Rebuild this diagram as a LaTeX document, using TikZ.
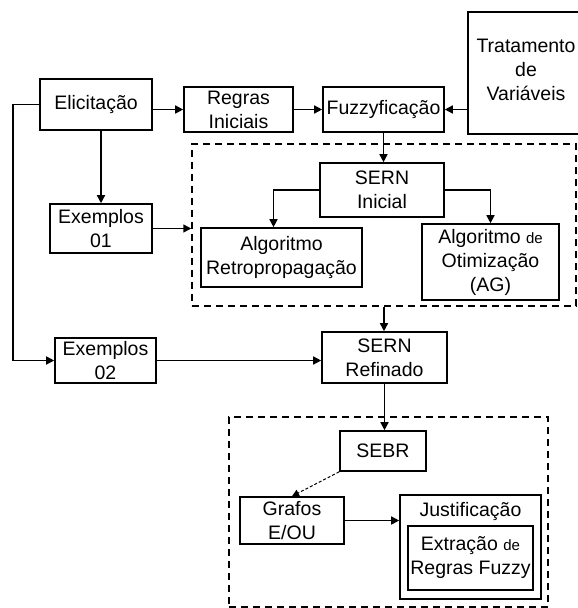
\documentclass[tikz,border=0pt]{standalone}
\usepackage{fontspec}
\setmainfont{Liberation Sans}
\usetikzlibrary{arrows.meta}
\begin{document}
\begin{tikzpicture}[x=1pt,y=-1pt,
  box/.style={draw, line width=1.6pt, inner sep=0pt, align=center,
    font=\fontsize{19.5}{24}\selectfont},
  lbl/.style={inner sep=0pt, align=center, font=\fontsize{19.5}{24}\selectfont},
  dbox/.style={draw, dash pattern=on 7pt off 5pt, line width=1.5pt, inner sep=0pt},
  arr/.style={line width=1.5pt, -{Triangle[length=8pt,width=8pt]}},
  darr/.style={line width=1pt, densely dashed, -{Triangle[length=7pt,width=7pt]}}]
\useasboundingbox (0,0) rectangle (578,608);
\fill[white] (0,0) rectangle (578,608);

\node[dbox, minimum width=384pt, minimum height=162pt] (dash1) at (384,225) {};
\node[dbox, minimum width=319pt, minimum height=190pt] (dash2) at (388.5,512) {};

\node[box, minimum width=112pt, minimum height=51pt] (elic) at (96,104.5) {Elicitação};
\node[box, minimum width=109pt, minimum height=45pt] (regras) at (238.5,109.5) {Regras\\Iniciais};
\node[box, minimum width=121pt, minimum height=45pt] (fuzzy) at (383.5,109.5) {Fuzzyficação};
\node[box, minimum width=122pt, minimum height=122pt] (trat) at (529,73) {};
\node[lbl] (tratlbl) at (526,70) {Tratamento\\de\\Variáveis};

\node[box, minimum width=124pt, minimum height=54pt] (sern1) at (382,190) {SERN\\Inicial};
\node[box, minimum width=102pt, minimum height=49pt] (ex1) at (101,228.5) {Exemplos\\01};
\node[box, minimum width=161pt, minimum height=59pt] (algo) at (281.5,257.5) {Algoritmo\\Retropropagação};
\node[box, minimum width=137pt, minimum height=76pt] (ag) at (490.5,262) {Algoritmo {\fontsize{15}{24}\selectfont de}\\Otimização\\(AG)};

\node[box, minimum width=101pt, minimum height=45pt] (ex2) at (105.5,360.5) {Exemplos\\02};
\node[box, minimum width=125pt, minimum height=51pt] (sernR) at (384.5,357.5) {SERN\\Refinado};

\node[box, minimum width=86pt, minimum height=40pt] (sebr) at (383,451) {SEBR};
\node[box, minimum width=104pt, minimum height=47pt] (grafos) at (292,520.5) {Grafos\\E/OU};
\node[box, minimum width=141pt, minimum height=104pt] (just) at (470.5,547) {};
\node[lbl] (justlbl) at (470.5,511) {Justificação};
\node[box, minimum width=125pt, minimum height=64pt] (extr) at (470.5,558) {Extração {\fontsize{15}{24}\selectfont de}\\Regras Fuzzy};

% connectors
\draw[arr] (elic.east |- regras.west) -- (regras.west);
\draw[arr] (regras.east) -- (fuzzy.west);
\draw[arr] (trat.west |- fuzzy.east) -- (fuzzy.east);
\draw[arr] (fuzzy.south) -- (fuzzy.south |- sern1.north);
\draw[arr] (ex1.north |- elic.south) -- (ex1.north);
\draw[arr] (elic.west) -- ++(-26,0) |- (ex2.west);
\draw[arr] (ex1.east) -- (ex1.east -| dash1.west);
\coordinate (algotop) at ([xshift=-8pt]algo.north);
\draw[arr] (sern1.west) -| (algotop);
\draw[arr] (sern1.east) -| (ag.north);
\draw[arr] (dash1.south) -- (dash1.south |- sernR.north);
\draw[arr] (ex2.east) -- (ex2.east -| sernR.west);
\draw[arr] (sernR.south) -- (sernR.south |- sebr.north);
\draw[darr] (sebr.south west) -- (grafos.north);
\draw[arr] (grafos.east) -- (grafos.east -| just.west);
\end{tikzpicture}
\end{document}
